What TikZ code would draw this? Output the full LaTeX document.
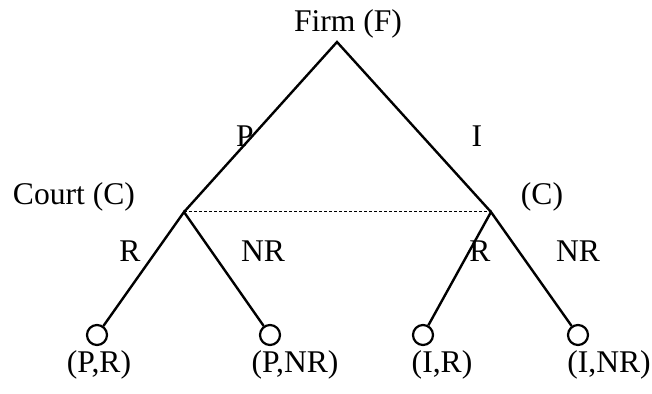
\documentclass[tikz,border=0pt]{standalone}
\usepackage{fontspec}
\setmainfont{Liberation Serif}
\usetikzlibrary{arrows.meta,positioning}

\begin{document}
\begin{tikzpicture}[x=0.5pt,y=-0.5pt,font=\fontsize{15.8}{18}\selectfont,
  edge/.style={line width=1.2pt},
  leaf/.style={circle,draw,line width=1.1pt,minimum size=10pt,inner sep=0pt},
  txt/.style={anchor=base,inner sep=0pt}]
\useasboundingbox (0,0) rectangle (652,394);
% decision points
\coordinate (F) at (337,42);
\coordinate (CL) at (184,212);
\coordinate (CR) at (491,212);
% terminal nodes
\node[leaf] (PR) at (97,335) {};
\node[leaf] (PNR) at (270,335) {};
\node[leaf] (IR) at (423,335) {};
\node[leaf] (INR) at (578,335) {};
\draw[edge] (CL)--(F)--(CR);
\draw[edge] (PR)--(CL)--(PNR);
\draw[edge] (IR)--(CR)--(INR);
\draw[line width=0.5pt,dash pattern=on 1.5pt off 1pt] (CL)--(CR);
% labels
\node[txt] (lF) at (348,32) {Firm (F)};
\node[txt] (lP) at (245,147) {P};
\node[txt] (lI) at (477,147) {I};
\node[txt] (lCL) at (74,205) {Court (C)};
\node[txt] (lCR) at (542,205) {(C)};
\node[txt] (lR1) at (130,262) {R};
\node[txt] (lNR1) at (263,262) {NR};
\node[txt] (lR2) at (480,262) {R};
\node[txt] (lNR2) at (578,262) {NR};
\foreach \x/\lab in {99/{(P,R)},295/{(P,NR)},442/{(I,R)},609/{(I,NR)}}{\node[txt] at (\x,373) {\lab};}
\end{tikzpicture}
\end{document}
